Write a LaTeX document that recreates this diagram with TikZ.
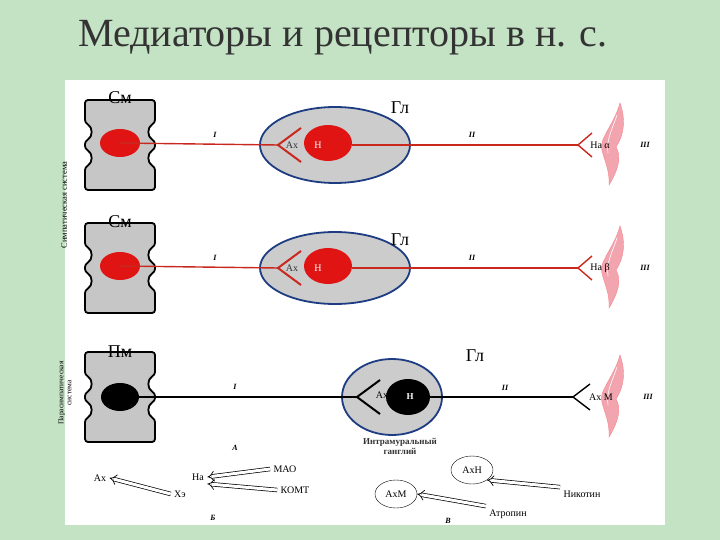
\documentclass[tikz,border=0pt]{standalone}
\usepackage{fontspec}
\setmainfont{Liberation Serif}
\usetikzlibrary{arrows.meta,shapes.geometric}
\definecolor{bgg}{RGB}{196,226,196}
\definecolor{nred}{RGB}{225,20,20}
\definecolor{axred}{RGB}{200,40,30}
\definecolor{ebl}{RGB}{30,60,130}
\definecolor{pinkm}{RGB}{242,165,175}
\tikzset{
  cellbox/.style={draw=black, line width=1.8pt, fill=gray!45, rounded corners=3pt},
  gang/.style={draw=ebl, line width=1.8pt, fill=gray!40},
  lab/.style={font=\fontsize{10}{11}\selectfont},
  big/.style={font=\fontsize{18}{19}\selectfont},
  rom/.style={font=\itshape\bfseries\fontsize{8}{9}\selectfont},
  oarrow/.style={double, double distance=3pt, line width=0.7pt, -{Implies}},
  pics/cell/.style={code={
    \path[cellbox] (-35,-45) -- (35,-45) -- (35,-22) .. controls (27,-18) and (27,-8) .. (35,-4)
      -- (35,4) .. controls (27,8) and (27,18) .. (35,22) -- (35,45) -- (-35,45) -- (-35,22)
      .. controls (-27,18) and (-27,8) .. (-35,4) -- (-35,-4) .. controls (-27,-8) and (-27,-18) .. (-35,-22) -- cycle;
  }},
  pics/muscle/.style={code={
    \path[fill=pinkm, draw=pinkm!80!red, line width=0.4pt]
      (8,-42) .. controls (2,-20) and (-14,-5) .. (-10,5) .. controls (-8,15) and (-2,25) .. (-3,40)
      .. controls (6,25) and (10,12) .. (4,2) .. controls (12,-10) and (14,-25) .. (8,-42) -- cycle;
    \draw[white, line width=0.6pt] (5,-30) .. controls (0,-15) and (-6,-5) .. (-4,8);
  }}
}
\begin{document}
\begin{tikzpicture}[x=1pt,y=-1pt]
\fill[bgg] (0,0) rectangle (720,540);
\fill[white] (65,80) rectangle (665,525);
\node[font=\fontsize{40}{42}\selectfont, text=black!80] (title) at (343,38) {Медиаторы и рецепторы в н. с.};
% side labels
\node[rotate=90, font=\fontsize{8.5}{9}\selectfont] (sym) at (64,205) {Симпатическая система};
\node[rotate=90, font=\fontsize{7.5}{8}\selectfont, align=center] (par) at (65,393) {Парасимпатическая\\система};

% ---- rows 1 and 2 (sympathetic)
\foreach \y/\r/\lab/\gy/\ry in {145/1/{На α}/108/38, 268/2/{На β}/240/36}{
  \pic at (120,\y) {cell};
  \path[gang] (335,\y) ellipse (75 and \ry);
  \fill[nred] (120,\y-2) ellipse (20 and 14);
  \fill[nred] (328,\y-2) ellipse (24 and 18);
  \draw[axred, line width=1.4pt] (120,\y-2) -- (278,\y);
  \draw[axred, line width=2pt] (301,\y-17) -- (278,\y) -- (301,\y+17);
  \draw[axred, line width=1.2pt] (352,\y) -- (578,\y);
  \draw[axred, line width=1.4pt] (592,\y-12) -- (578,\y) -- (592,\y+12);
  \pic at (612,\y) {muscle};
  \node[lab, text=black!80] at (292,\y) {Ах};
  \node[lab, text=white] at (318,\y) {Н};
  \node[lab] at (600,\y) {\lab};
  \node[big] at (400,\gy) {Гл};
  \node[rom] at (215,\y-10) {I};
  \node[rom] at (472,\y-10) {II};
  \node[rom] at (645,\y) {III};
}
\node[big] at (120,98) {См};
\node[big] at (120,222) {См};

% ---- row 3 (parasympathetic)
\pic at (120,397) {cell};
\path[gang] (392,397) ellipse (50 and 38);
\fill[black] (120,397) ellipse (19 and 14);
\fill[black] (408,397) ellipse (22 and 18);
\draw[black, line width=1.4pt] (120,397) -- (357,397);
\draw[black, line width=2pt] (380,380) -- (357,397) -- (380,414);
\draw[black, line width=1.2pt] (420,397) -- (573,397);
\draw[black, line width=1.4pt] (590,384) -- (573,397) -- (590,410);
\pic at (612,397) {muscle};
\node[lab] at (382,395) {Ах};
\node[lab, text=white, font=\bfseries\fontsize{9}{10}\selectfont] at (410,397) {Н};
\node[lab] at (601,397) {Ах М};
\node[big] at (120,352) {Пм};
\node[big] at (475,356) {Гл};
\node[rom] at (235,387) {I};
\node[rom] at (505,388) {II};
\node[rom] at (648,397) {III};
\node[align=center, font=\bfseries\fontsize{9}{10}\selectfont, text=black!80] (intra) at (400,446) {Интрамуральный\\ганглий};

% ---- bottom legend
\node[rom] (A) at (235,448) {А};
\node[lab] (ax) at (100,478) {Ах};
\node[lab] (xe) at (180,494) {Хэ};
\node[lab] (na) at (198,477) {На};
\node[lab] (mao) at (285,469) {МАО};
\node[lab] (komt) at (295,490) {КОМТ};
\node[rom] (B) at (213,518) {Б};
\draw[oarrow] (xe.west) -- (ax.east);
\draw[oarrow] (mao.west) -- (na.east);
\draw[oarrow] (komt.west) -- (na.south east);
\node[draw, ellipse, minimum width=42pt, minimum height=28pt, lab] (axh) at (472,470) {АхН};
\node[draw, ellipse, minimum width=42pt, minimum height=28pt, lab] (axm) at (396,494) {АхМ};
\node[lab] (nik) at (582,494) {Никотин};
\node[lab] (atr) at (508,514) {Атропин};
\node[rom] (V) at (448,521) {В};
\draw[oarrow] (nik.north west) -- (axh.south east);
\draw[oarrow] (atr.north west) -- (axm.east);
\end{tikzpicture}
\end{document}
